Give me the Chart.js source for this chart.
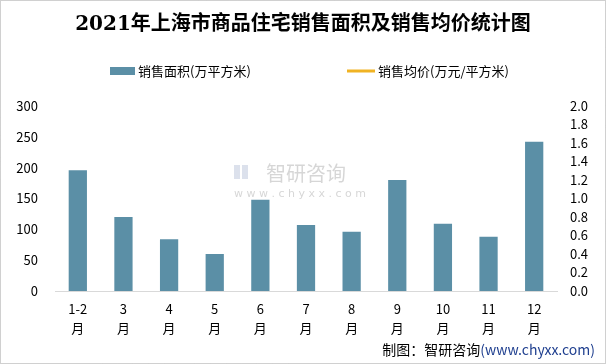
<!DOCTYPE html>
<html>
<head>
<meta charset="utf-8">
<script src="https://cdn.jsdelivr.net/npm/chart.js@4/dist/chart.umd.min.js"></script>
<style>
  html, body { margin: 0; padding: 0; background: #fff; }
  canvas { display: block; }
</style>
</head>
<body>
<canvas id="c" width="606" height="364"></canvas>
<script>
// 2021年上海市商品住宅销售面积及销售均价

const months = ['1-2', '3', '4', '5', '6', '7', '8', '9', '10', '11', '12'];
const areaData = [196, 120, 84, 60, 148, 107, 96, 180, 109, 88, 242];
// 均价线在原图中没有画出数据
const priceData = [null, null, null, null, null, null, null, null, null, null, null];
const leftTicks = [0, 50, 100, 150, 200, 250, 300];
const rightTicks = [0, 0.2, 0.4, 0.6, 0.8, 1.0, 1.2, 1.4, 1.6, 1.8, 2.0];

const BAR = '#5B8FA6';
const LINE = '#F0B323';
const CJK = '"Microsoft YaHei", "Noto Sans CJK SC", sans-serif';

const decor = {
    id: 'decor',
    beforeDraw(chart) {
        const c = chart.ctx;
        c.save();
        c.fillStyle = '#fff';
        c.fillRect(0, 0, chart.width, chart.height);
        // 水印
        c.globalAlpha = 0.35;
        c.fillStyle = '#9aa9c8';
        c.fillRect(234, 165, 6, 14);
        c.fillRect(242, 165, 6, 14);
        c.fillStyle = '#8a8a8a';
        c.font = '20px ' + CJK;
        c.textBaseline = 'middle';
        c.fillText('智研咨询', 266, 173);
        c.font = '11px "DejaVu Sans", sans-serif';
        c.fillText('w w w . c h y x x . c o m', 234, 194);
        c.restore();
    },
    afterDraw(chart) {
        const c = chart.ctx;
        c.save();
        // 标题
        c.fillStyle = '#000';
        c.font = 'bold 20px "DejaVu Serif", "Noto Sans CJK SC", serif';
        c.textAlign = 'center';
        c.textBaseline = 'middle';
        c.fillText('2021年上海市商品住宅销售面积及销售均价统计图', 303, 25);

        // 图例
        c.textAlign = 'left';
        c.font = '13px ' + CJK;
        c.fillStyle = BAR;
        c.fillRect(110, 67, 25, 8);
        c.fillStyle = '#000';
        c.fillText('销售面积(万平方米)', 138, 71);
        c.strokeStyle = LINE;
        c.lineWidth = 3;
        c.beginPath();
        c.moveTo(347, 71);
        c.lineTo(375, 71);
        c.stroke();
        c.fillText('销售均价(万元/平方米)', 378, 71);

        // 来源
        c.textAlign = 'right';
        c.font = '14px ' + CJK;
        c.fillStyle = '#1f3f8f';
        const src = '(www.chyxx.com)';
        c.fillText(src, 595, 350);
        const w = c.measureText(src).width;
        c.fillStyle = '#000';
        c.fillText('制图：智研咨询', 595 - w, 350);

        // 边框
        c.strokeStyle = '#a0a0a0';
        c.lineWidth = 1;
        c.setLineDash([1, 1]);
        c.strokeRect(0.5, 0.5, chart.width - 1, chart.height - 1);
        c.restore();
    }
};

new Chart(document.getElementById('c'), {
    data: {
        labels: months.map(m => [m, '月']),
        datasets: [
            {
                type: 'line',
                label: '销售均价(万元/平方米)',
                data: priceData,
                borderColor: LINE,
                backgroundColor: LINE,
                borderWidth: 3,
                pointRadius: 0,
                yAxisID: 'y1',
                order: 0
            },
            {
                type: 'bar',
                label: '销售面积(万平方米)',
                data: areaData,
                backgroundColor: BAR,
                barPercentage: 0.4,
                categoryPercentage: 1,
                yAxisID: 'y',
                order: 1
            }
        ]
    },
    options: {
        responsive: false,
        animation: false,
        layout: { padding: { top: 106, left: 0, right: 0, bottom: 0 } },
        plugins: {
            legend: { display: false },
            title: { display: false },
            tooltip: { enabled: false }
        },
        scales: {
            x: {
                grid: { display: false, drawTicks: false },
                border: { display: true, color: '#d9d9d9', width: 1 },
                ticks: {
                    color: '#000',
                    padding: 9,
                    maxRotation: 0,
                    autoSkip: false,
                    font: { family: CJK, size: 13, lineHeight: 1.45 }
                },
                afterFit(s) { s.height = 364 - 106 - 185; }
            },
            y: {
                position: 'left',
                min: 0,
                max: 300,
                afterBuildTicks(s) { s.ticks = leftTicks.map(v => ({ value: v })); },
                grid: { display: false, drawTicks: false },
                border: { display: false },
                ticks: {
                    color: '#000',
                    padding: 17,
                    autoSkip: false,
                    font: { family: CJK, size: 13 }
                },
                afterFit(s) { s.width = 55; }
            },
            y1: {
                position: 'right',
                min: 0,
                max: 2,
                afterBuildTicks(s) { s.ticks = rightTicks.map(v => ({ value: v })); },
                grid: { display: false, drawTicks: false },
                border: { display: false },
                ticks: {
                    color: '#000',
                    padding: 13,
                    autoSkip: false,
                    font: { family: CJK, size: 13 },
                    callback: v => Number(v).toFixed(1)
                },
                afterFit(s) { s.width = 606 - 557; }
            }
        }
    },
    plugins: [decor]
});
</script>
</body>
</html>
